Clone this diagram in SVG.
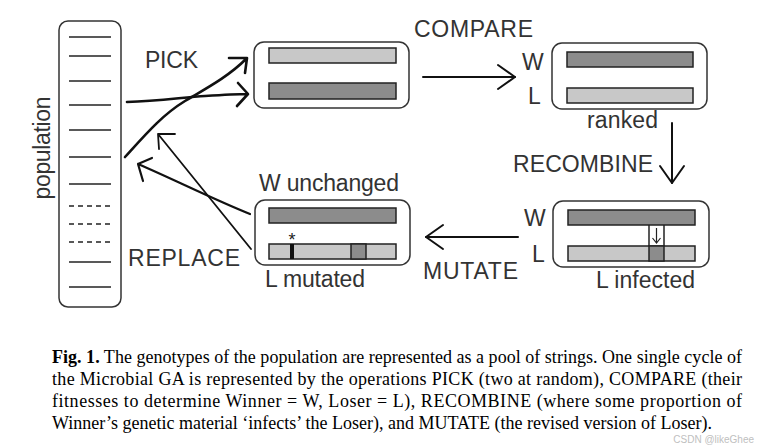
<svg xmlns="http://www.w3.org/2000/svg" width="767" height="445" viewBox="0 0 767 445">
<style>
.box{fill:#fff;stroke:#333;stroke-width:1.5}
.lt{fill:#c8c8c8;stroke:#222;stroke-width:1.5}
.dk{fill:#8c8c8c;stroke:#222;stroke-width:1.5}
.pl{stroke:#222;stroke-width:1.5}
.ds{stroke:#222;stroke-width:1.5;stroke-dasharray:5,4}
.lbl{font-family:"Liberation Sans",Arial,sans-serif;font-size:23px;fill:#333}
.cap{font-family:"Liberation Serif","Times New Roman",serif;font-size:18px;fill:#000}
.ln{fill:none;stroke:#111;stroke-linecap:round;stroke-linejoin:round}
</style>
<defs>
<marker id="chev" viewBox="-20 -14 22 28" refX="0" refY="0" markerWidth="22" markerHeight="28" markerUnits="userSpaceOnUse" orient="auto">
<path d="M-17,-12 L0,0 L-17,12" fill="none" stroke="#111" stroke-width="2" stroke-linecap="round" stroke-linejoin="round"/>
</marker>
</defs>
<rect width="767" height="445" fill="#fff"/>

<g id="population">
<rect class="box" x="59" y="21" width="62" height="286" rx="9"/>
<g>
<line class="pl" x1="69" y1="37" x2="111" y2="37"/>
<line class="pl" x1="69" y1="56" x2="111" y2="56"/>
<line class="pl" x1="69" y1="81" x2="111" y2="81"/>
<line class="pl" x1="69" y1="105" x2="111" y2="105"/>
<line class="pl" x1="69" y1="130" x2="111" y2="130"/>
<line class="pl" x1="69" y1="157" x2="111" y2="157"/>
<line class="pl" x1="69" y1="184" x2="111" y2="184"/>
<line class="ds" x1="69" y1="206" x2="111" y2="206"/>
<line class="ds" x1="69" y1="224" x2="111" y2="224"/>
<line class="ds" x1="69" y1="242" x2="111" y2="242"/>
<line class="pl" x1="69" y1="262" x2="111" y2="262"/>
<line class="pl" x1="69" y1="287" x2="111" y2="287"/>
</g>
<text class="lbl" transform="translate(50,148) rotate(-90)" text-anchor="middle" textLength="103" font-size="22">population</text>
</g>

<g id="pick-box">
<rect class="box" x="254" y="42" width="155" height="66" rx="10"/>
<rect class="lt" x="269" y="48" width="127" height="15"/>
<rect class="dk" x="269" y="83" width="127" height="16"/>
</g>

<g id="ranked-box">
<rect class="box" x="552" y="43" width="155" height="66" rx="10"/>
<rect class="dk" x="567" y="52" width="126" height="15"/>
<rect class="lt" x="567" y="88" width="126" height="15"/>
<text class="lbl" x="522" y="70" textLength="21">W</text>
<text class="lbl" x="528" y="104">L</text>
<text class="lbl" x="587" y="128" textLength="71">ranked</text>
</g>

<g id="infected-box">
<rect class="box" x="553" y="201" width="156" height="66" rx="10"/>
<rect class="dk" x="568" y="210" width="127" height="15"/>
<rect class="lt" x="568" y="246" width="127" height="15"/>
<rect x="649" y="246" width="15" height="15" fill="#8c8c8c" stroke="#222" stroke-width="1.5"/>
<line class="pl" x1="649" y1="225" x2="649" y2="246"/>
<line class="pl" x1="664" y1="225" x2="664" y2="246"/>
<path d="M656.5,228 L656.5,243 M652.5,238 L656.5,243 L660.5,238" fill="none" stroke="#222" stroke-width="1.2"/>
<text class="lbl" x="524" y="226" textLength="21">W</text>
<text class="lbl" x="532" y="262">L</text>
<text class="lbl" x="596" y="288" textLength="99">L infected</text>
</g>

<g id="mutated-box">
<rect class="box" x="255" y="200" width="155" height="65" rx="10"/>
<rect class="dk" x="269" y="208" width="127" height="15"/>
<rect class="lt" x="269" y="244" width="127" height="15"/>
<rect x="290" y="244" width="4" height="15" fill="#111"/>
<rect x="351" y="244" width="15" height="15" fill="#8c8c8c" stroke="#222" stroke-width="1.5"/>
<text x="292" y="246" text-anchor="middle" font-family="Liberation Sans,Arial,sans-serif" font-size="18" fill="#222">*</text>
<text class="lbl" x="259" y="191" textLength="140">W unchanged</text>
<text class="lbl" x="265" y="287" textLength="100">L mutated</text>
</g>

<g id="connectors">
<line class="ln" x1="423" y1="77" x2="515" y2="77" stroke-width="2" marker-end="url(#chev)"/>
<line class="ln" x1="672" y1="123" x2="672" y2="183" stroke-width="2" marker-end="url(#chev)"/>
<line class="ln" x1="518" y1="237" x2="426" y2="237" stroke-width="2" marker-end="url(#chev)"/>
<path class="ln" stroke-width="2.6" d="M127,102 C160,101 185,97 205,96 C220,95 235,94 247,94 M238,83 L248,94 L237,106"/>
<path class="ln" stroke-width="2.6" d="M125,157 C145,135 162,115 185,101 C205,89 228,77 246,59 M229,58 L247,58 L245,73"/>
<path class="ln" stroke-width="1.8" d="M251,249 L158,134 M175,134 L158,134 L159,149"/>
<path class="ln" stroke-width="2.2" d="M250,214 C215,200 175,180 138,164 M152,158 L138,164 L143,181"/>
</g>

<g id="op-labels">
<text class="lbl" x="145" y="68" textLength="53">PICK</text>
<text class="lbl" x="414" y="37" textLength="119">COMPARE</text>
<text class="lbl" x="513" y="172" textLength="140">RECOMBINE</text>
<text class="lbl" x="423" y="279" textLength="95">MUTATE</text>
<text class="lbl" x="128" y="266" textLength="112">REPLACE</text>
</g>

<g id="caption">
<text class="cap" x="52" y="363" textLength="690" lengthAdjust="spacing"><tspan font-weight="bold">Fig. 1.</tspan> The genotypes of the population are represented as a pool of strings. One single cycle of</text>
<text class="cap" x="52" y="385" textLength="690" lengthAdjust="spacing">the Microbial GA is represented by the operations PICK (two at random), COMPARE (their</text>
<text class="cap" x="52" y="407" textLength="690" lengthAdjust="spacing">fitnesses to determine Winner = W, Loser = L), RECOMBINE (where some proportion of</text>
<text class="cap" x="52" y="429">Winner’s genetic material ‘infects’ the Loser), and MUTATE (the revised version of Loser).</text>
<text x="754" y="443" text-anchor="end" font-family="Liberation Sans,Arial,sans-serif" font-size="10" fill="#c0c0c0">CSDN @likeGhee</text>
</g>
</svg>
